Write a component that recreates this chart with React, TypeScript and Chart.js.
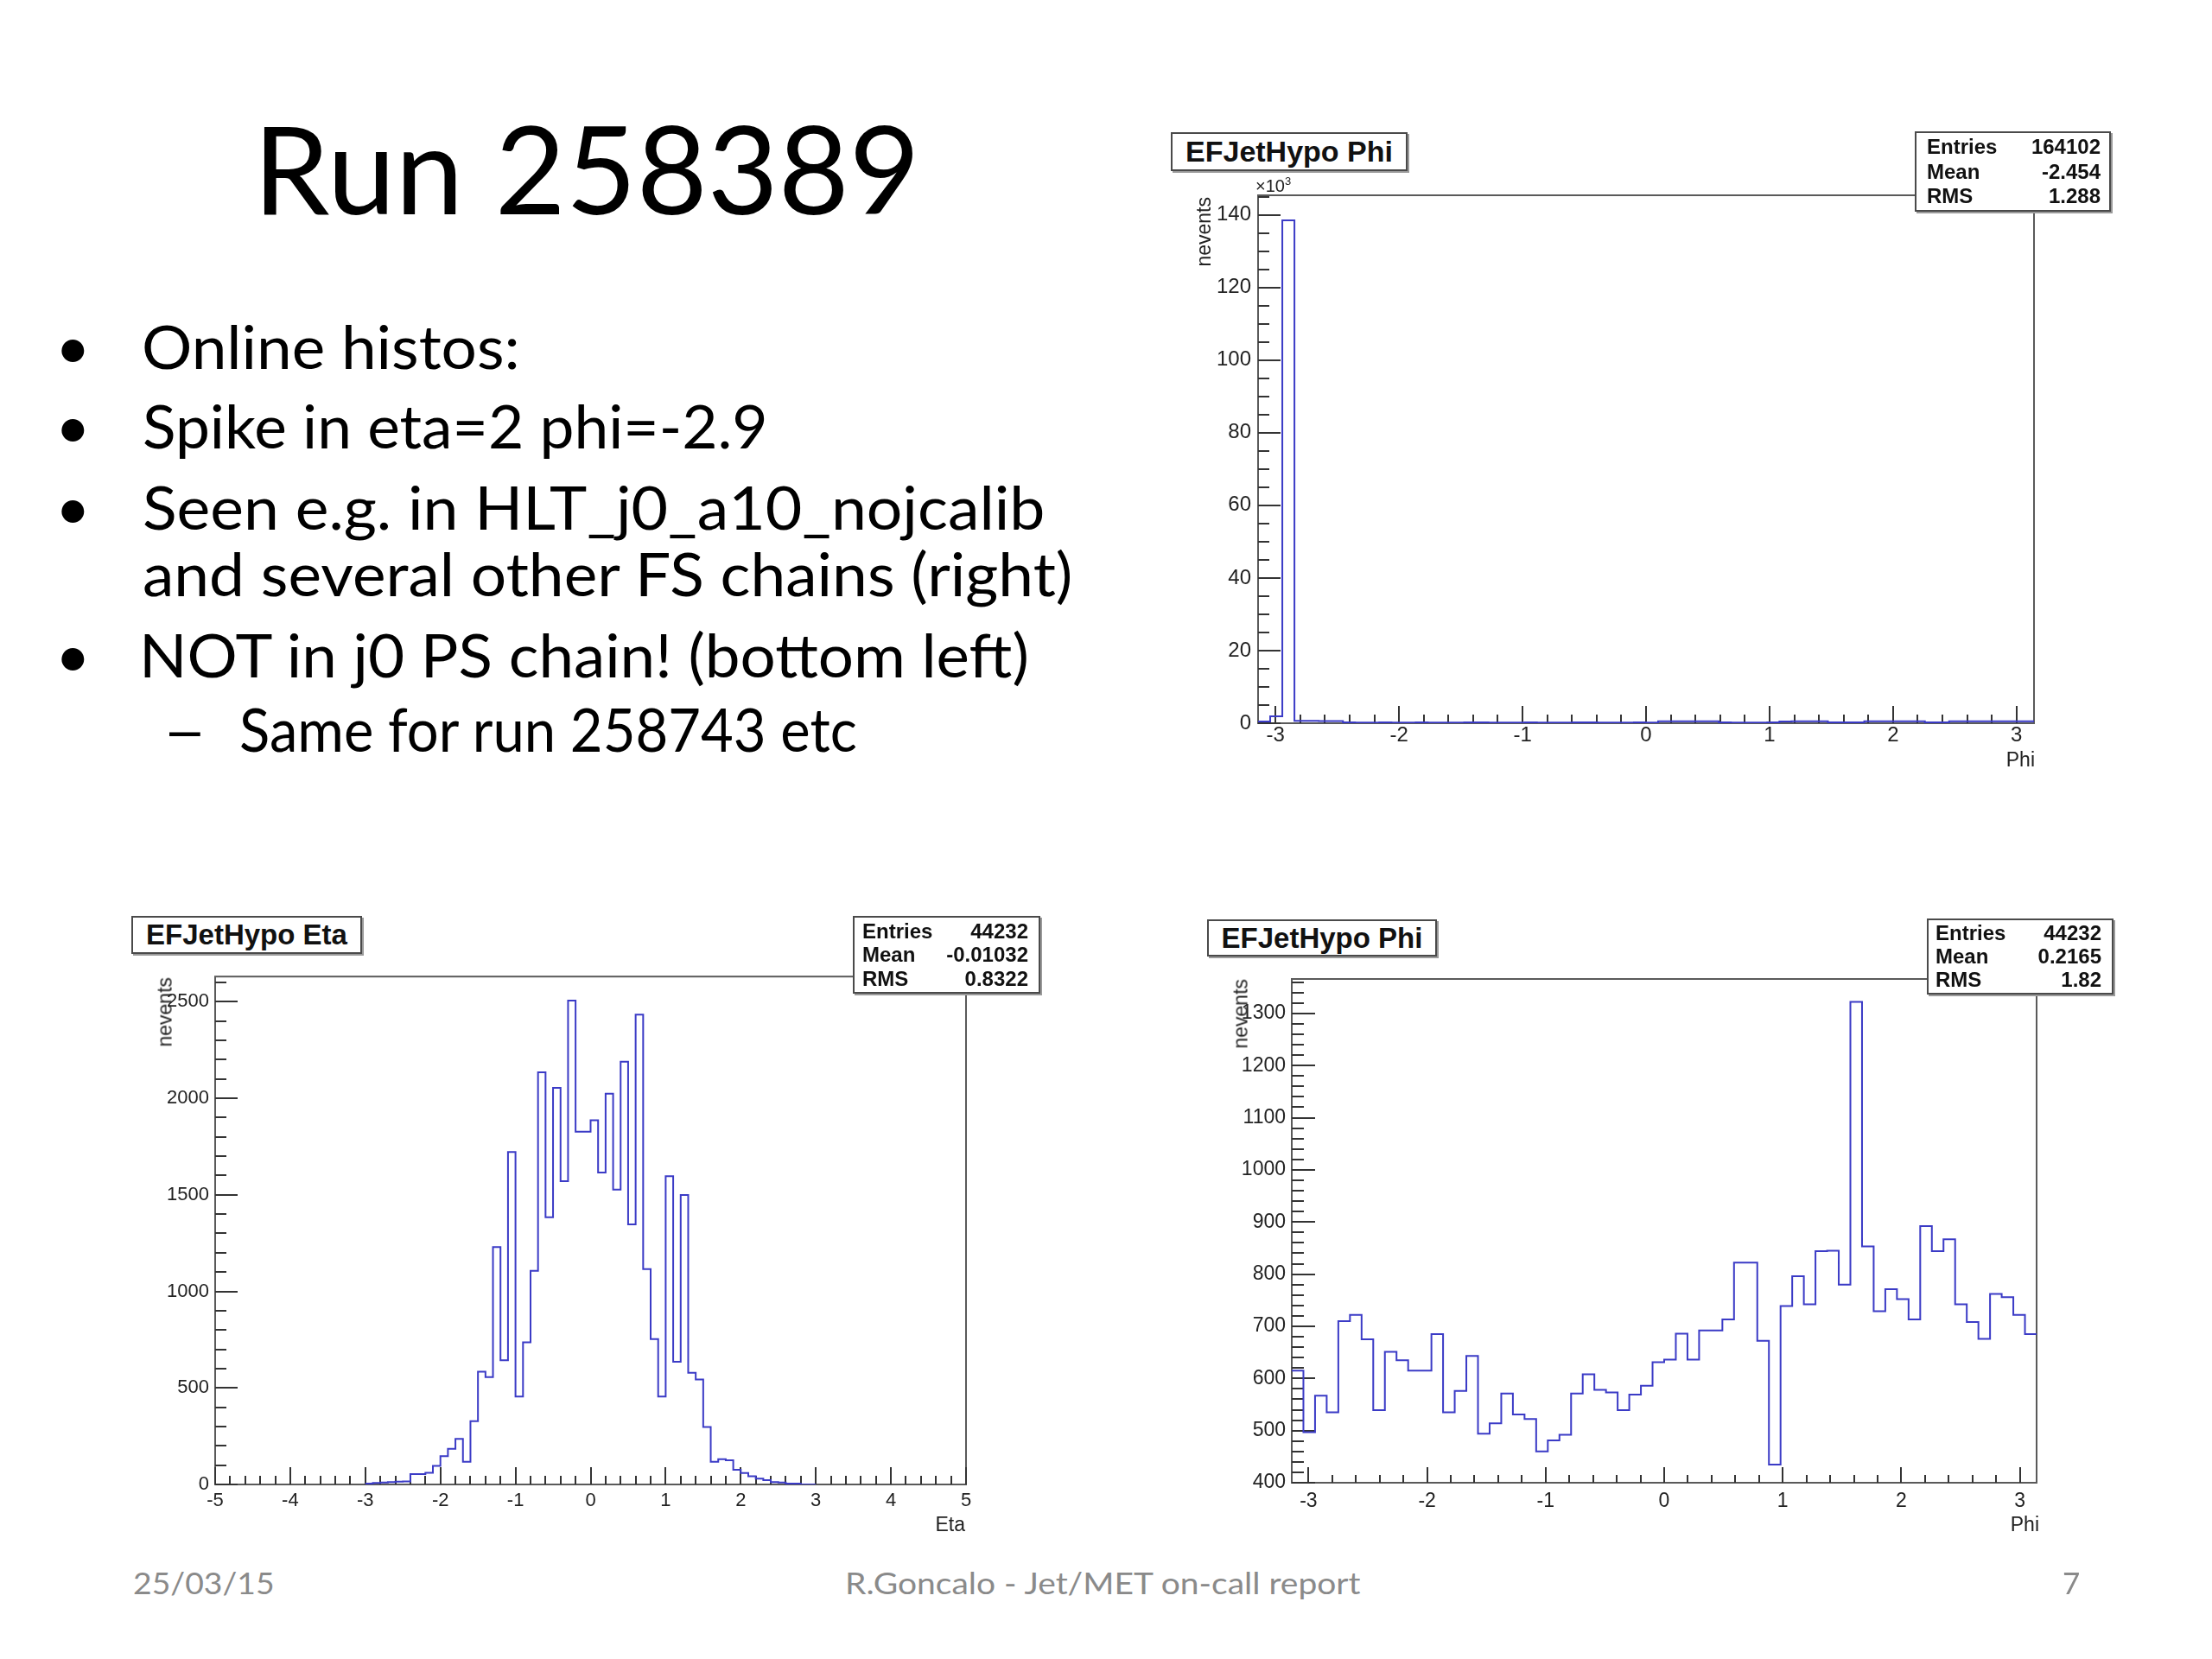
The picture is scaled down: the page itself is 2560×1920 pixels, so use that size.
import React, { useEffect, useRef } from 'react';
import { Chart, registerables } from 'chart.js';

Chart.register(...registerables);

// ---------------- fonts / colours ----------------
const SLIDE_FONT = 'Lato, "Open Sans", sans-serif';
const ROOT_FONT = '"Liberation Sans", Arial, sans-serif';
const HIST_COLOR = '#3b3bc6';
const FRAME_COLOR = '#5a5a5a';
const TICK_COLOR = '#333333';
const LABEL_COLOR = '#222222';
const FOOTER_COLOR = '#8a8a8a';

// ---------------- slide text ----------------
const SLIDE_TITLE = 'Run 258389';
const BULLET_LINES = [
  'Online histos:',
  'Spike in eta=2 phi=-2.9',
  'Seen e.g. in HLT_j0_a10_nojcalib',
  'and several other FS chains (right)',
  'NOT in j0 PS chain! (bottom left)',
];
const SUB_BULLET = 'Same for run 258743 etc';
const FOOTER_DATE = '25/03/15';
const FOOTER_CENTER = 'R.Goncalo - Jet/MET on-call report';
const FOOTER_PAGE = '7';

// ---------------- top-right histogram: EFJetHypo Phi (64 bins, -pi..pi) ----------------
const TOP_PHI_TITLE = 'EFJetHypo Phi';
const TOP_PHI_STATS_LABELS = ['Entries', 'Mean', 'RMS'];
const TOP_PHI_STATS_VALUES = ['164102', '-2.454', '1.288'];
const TOP_PHI_VALUES = [
  470, 1900, 138500, 630, 630, 620, 610,
  210, 190, 200, 220, 200, 190, 210, 200, 200, 190, 210, 220, 200,
  190, 200, 210, 200, 190, 200, 210, 220, 200, 190, 200, 210, 200,
  560, 540, 550, 560, 540,
  210, 200, 190, 200, 210,
  470, 560, 550, 560,
  260, 250, 240,
  560, 550, 540, 560, 550,
  250, 240,
  560, 550, 560, 540, 550, 560, 550,
];
const TOP_PHI_Y_TICKS = [0, 20000, 40000, 60000, 80000, 100000, 120000, 140000];
const TOP_PHI_Y_LABELS = ['0', '20', '40', '60', '80', '100', '120', '140'];

// ---------------- bottom-left histogram: EFJetHypo Eta (bins of 0.1 from -3.0) ----------------
const ETA_TITLE = 'EFJetHypo Eta';
const ETA_STATS_LABELS = ['Entries', 'Mean', 'RMS'];
const ETA_STATS_VALUES = ['44232', '-0.01032', '0.8322'];
const ETA_FIRST_EDGE = -3.0;
const ETA_BIN_WIDTH = 0.1;
const ETA_VALUES = [
  5, 8, 10, 12, 14, 16, 54, 54, 60, 96,
  147, 185, 236, 118, 328, 584, 556, 1229, 643, 1721,
  455, 736, 1106, 2134, 1384, 2054, 1571, 2506, 1827, 1827,
  1886, 1615, 2024, 1527, 2189, 1347, 2433, 1115, 753, 455,
  1596, 635, 1499, 578, 544, 298, 118, 131, 125, 76,
  59, 42, 30, 22, 12, 10, 5, 4, 0, 0,
];
const ETA_X_TICKS = [-5, -4, -3, -2, -1, 0, 1, 2, 3, 4, 5];
const ETA_X_LABELS = ['-5', '-4', '-3', '-2', '-1', '0', '1', '2', '3', '4', '5'];
const ETA_Y_TICKS = [0, 500, 1000, 1500, 2000, 2500];
const ETA_Y_LABELS = ['0', '500', '1000', '1500', '2000', '2500'];

// ---------------- bottom-right histogram: EFJetHypo Phi (64 bins, -pi..pi) ----------------
const PHI_TITLE = 'EFJetHypo Phi';
const PHI_STATS_LABELS = ['Entries', 'Mean', 'RMS'];
const PHI_STATS_VALUES = ['44232', '0.2165', '1.82'];
const PHI_VALUES = [
  615, 497, 567, 535, 710, 722, 675, 539, 651, 635,
  615, 615, 685, 535, 576, 643, 494, 514, 571, 531,
  522, 460, 481, 492, 571, 608, 578, 573, 539, 569,
  586, 631, 636, 686, 636, 692, 692, 713, 822, 822,
  672, 435, 739, 796, 742, 844, 845, 780, 1322, 853,
  729, 771, 752, 713, 892, 844, 867, 742, 708, 676,
  762, 756, 722, 685,
];
const PHI_Y_TICKS = [400, 500, 600, 700, 800, 900, 1000, 1100, 1200, 1300];
const PHI_Y_LABELS = ['400', '500', '600', '700', '800', '900', '1000', '1100', '1200', '1300'];

const PHI_X_TICKS = [-3, -2, -1, 0, 1, 2, 3];
const PHI_X_LABELS = ['-3', '-2', '-1', '0', '1', '2', '3'];
const PHI_BINS = 64;

// ---------------- text helpers ----------------
let measureCtx: CanvasRenderingContext2D | null = null;
function measure(text: string, font: string) {
  if (!measureCtx) measureCtx = document.createElement('canvas').getContext('2d');
  measureCtx!.font = font;
  return measureCtx!.measureText(text);
}

function FitText(p: {
  text: string; inkLeft: number; baseline: number; inkWidth?: number;
  size: number; family: string; color?: string; weight?: number;
}) {
  const weight = p.weight ?? 400;
  const font = `${weight} ${p.size}px ${p.family}`;
  const m = measure(p.text, font);
  const inkW = (m.actualBoundingBoxLeft || 0) + (m.actualBoundingBoxRight || m.width);
  const sx = p.inkWidth && inkW > 0 ? p.inkWidth / inkW : 1;
  const asc = (m as any).fontBoundingBoxAscent ?? p.size * 0.987;
  const desc = (m as any).fontBoundingBoxDescent ?? p.size * 0.213;
  const top = p.baseline - ((p.size - (asc + desc)) / 2 + asc);
  const left = p.inkLeft + (m.actualBoundingBoxLeft || 0) * sx;
  return (
    <div
      style={{
        position: 'absolute', left, top, fontFamily: p.family, fontSize: p.size,
        fontWeight: weight, lineHeight: `${p.size}px`, color: p.color ?? '#000',
        whiteSpace: 'pre', transform: `scaleX(${sx})`, transformOrigin: '0 0',
      }}
    >
      {p.text}
    </div>
  );
}

function TitleBox(p: { left: number; top: number; width: number; height: number; text: string; size: number }) {
  return (
    <div
      style={{
        position: 'absolute', left: p.left, top: p.top, width: p.width, height: p.height,
        boxSizing: 'border-box', border: '2px solid #4a4a4a', background: '#fff',
        boxShadow: '2px 2px 0 #9a9a9a', display: 'flex', alignItems: 'center',
        justifyContent: 'center', fontFamily: ROOT_FONT, fontWeight: 700, fontSize: p.size,
        color: '#111', whiteSpace: 'nowrap',
      }}
    >
      {p.text}
    </div>
  );
}

function StatsBox(p: {
  left: number; top: number; width: number; height: number;
  labels: string[]; values: string[]; size: number; padL: number; padR: number;
}) {
  return (
    <div
      style={{
        position: 'absolute', left: p.left, top: p.top, width: p.width, height: p.height,
        boxSizing: 'border-box', border: '2px solid #4a4a4a', background: '#fff',
        boxShadow: '2px 2px 0 #9a9a9a', display: 'flex', flexDirection: 'column',
        justifyContent: 'space-evenly', paddingLeft: p.padL, paddingRight: p.padR,
        fontFamily: ROOT_FONT, fontWeight: 700, fontSize: p.size, color: '#111',
        lineHeight: 1,
      }}
    >
      {p.labels.map((l, i) => (
        <div key={l} style={{ display: 'flex', justifyContent: 'space-between' }}>
          <span>{l}</span>
          <span>{p.values[i]}</span>
        </div>
      ))}
    </div>
  );
}

function AxisText(p: { text: string; right: number; centerY: number; size: number }) {
  return (
    <div
      style={{
        position: 'absolute', right: 2560 - p.right, top: p.centerY - p.size / 2,
        fontFamily: ROOT_FONT, fontSize: p.size, lineHeight: `${p.size}px`,
        color: LABEL_COLOR, whiteSpace: 'nowrap',
      }}
    >
      {p.text}
    </div>
  );
}

function VerticalAxisText(p: { text: string; centerX: number; top: number; size: number }) {
  return (
    <div style={{ position: 'absolute', left: p.centerX - p.size / 2, top: p.top, width: 0, height: 0 }}>
      <div
        style={{
          position: 'absolute', right: 0, top: 0, fontFamily: ROOT_FONT, fontSize: p.size,
          lineHeight: `${p.size}px`, color: LABEL_COLOR, whiteSpace: 'nowrap',
          transformOrigin: 'top right', transform: 'rotate(-90deg)',
        }}
      >
        {p.text}
      </div>
    </div>
  );
}

// ---------------- ROOT-like histogram via Chart.js ----------------
type Box = { left: number; top: number; width: number; height: number };
type Frame = { left: number; top: number; right: number; bottom: number };
type HistConfig = {
  box: Box; frame: Frame;
  firstEdge: number; binWidth: number; values: number[];
  xMin: number; xMax: number; yMin: number; yMax: number;
  xTicks: number[]; xLabels: string[]; yTicks: number[]; yLabels: string[];
  xMinorStep: number; yMinorStep: number;
  xMajorLen: number; xMinorLen: number; yMajorLen: number; yMinorLen: number;
  fontSize: number; xLabelPad: number; yLabelPad: number;
};

const Y_AXIS_W = 80;
const X_AXIS_H = 45;

const rootFramePlugin = {
  id: 'rootFrame',
  beforeDatasetsDraw(chart: any, _args: any, opts: any) {
    const { ctx, chartArea: a, scales } = chart;
    const xs = scales.x, ys = scales.y;
    ctx.save();
    ctx.strokeStyle = FRAME_COLOR;
    ctx.lineWidth = 2;
    ctx.strokeRect(a.left, a.top, a.right - a.left, a.bottom - a.top);
    ctx.strokeStyle = TICK_COLOR;
    ctx.lineWidth = 2;
    ctx.beginPath();
    const isMajor = (list: number[], v: number, step: number) =>
      list.some((t) => Math.abs(t - v) < step / 10);
    const kx0 = Math.ceil(xs.min / opts.xMinorStep - 1e-9);
    for (let k = kx0; k * opts.xMinorStep <= xs.max + 1e-9; k++) {
      const v = k * opts.xMinorStep;
      const px = Math.round(xs.getPixelForValue(v));
      const len = isMajor(opts.xTicks, v, opts.xMinorStep) ? opts.xMajorLen : opts.xMinorLen;
      ctx.moveTo(px, a.bottom);
      ctx.lineTo(px, a.bottom - len);
    }
    const ky0 = Math.ceil(ys.min / opts.yMinorStep - 1e-9);
    for (let k = ky0; k * opts.yMinorStep <= ys.max + 1e-9; k++) {
      const v = k * opts.yMinorStep;
      const py = Math.round(ys.getPixelForValue(v));
      const len = isMajor(opts.yTicks, v, opts.yMinorStep) ? opts.yMajorLen : opts.yMinorLen;
      ctx.moveTo(a.left, py);
      ctx.lineTo(a.left + len, py);
    }
    ctx.stroke();
    ctx.restore();
  },
};

function RootHist({ cfg }: { cfg: HistConfig }) {
  const ref = useRef<HTMLCanvasElement>(null);
  useEffect(() => {
    const c = cfg;
    const padding = {
      left: c.frame.left - c.box.left - Y_AXIS_W,
      top: c.frame.top - c.box.top,
      right: c.box.left + c.box.width - c.frame.right,
      bottom: c.box.top + c.box.height - c.frame.bottom - X_AXIS_H,
    };
    const points = c.values.map((v, i) => ({ x: c.firstEdge + i * c.binWidth, y: v }));
    points.push({ x: c.firstEdge + c.values.length * c.binWidth, y: c.values[c.values.length - 1] });
    const tickFont = { family: ROOT_FONT, size: c.fontSize };
    const chart = new Chart(ref.current!, {
      type: 'line',
      data: {
        datasets: [
          {
            data: points,
            stepped: 'before',
            borderColor: HIST_COLOR,
            borderWidth: 2,
            pointRadius: 0,
            fill: false,
            tension: 0,
          },
        ],
      },
      options: {
        responsive: false,
        animation: false,
        devicePixelRatio: 1,
        events: [],
        layout: { padding },
        plugins: {
          legend: { display: false },
          tooltip: { enabled: false },
          title: { display: false },
          rootFrame: {
            xTicks: c.xTicks, yTicks: c.yTicks, xMinorStep: c.xMinorStep, yMinorStep: c.yMinorStep,
            xMajorLen: c.xMajorLen, xMinorLen: c.xMinorLen, yMajorLen: c.yMajorLen, yMinorLen: c.yMinorLen,
          },
        } as any,
        scales: {
          x: {
            type: 'linear',
            min: c.xMin,
            max: c.xMax,
            grid: { display: false, drawTicks: false },
            border: { display: false },
            afterBuildTicks: (s: any) => { s.ticks = c.xTicks.map((v) => ({ value: v })); },
            afterFit: (s: any) => { s.height = X_AXIS_H; },
            ticks: {
              autoSkip: false, maxRotation: 0, minRotation: 0, padding: c.xLabelPad,
              font: tickFont, color: LABEL_COLOR,
              callback: (v: any) => c.xLabels[c.xTicks.findIndex((t) => Math.abs(t - v) < 1e-6)] ?? '',
            },
          },
          y: {
            type: 'linear',
            min: c.yMin,
            max: c.yMax,
            grid: { display: false, drawTicks: false },
            border: { display: false },
            afterBuildTicks: (s: any) => { s.ticks = c.yTicks.map((v) => ({ value: v })); },
            afterFit: (s: any) => { s.width = Y_AXIS_W; },
            ticks: {
              autoSkip: false, padding: c.yLabelPad, font: tickFont, color: LABEL_COLOR,
              callback: (v: any) => c.yLabels[c.yTicks.findIndex((t) => Math.abs(t - v) < 1e-6)] ?? '',
            },
          },
        },
      } as any,
      plugins: [rootFramePlugin],
    });
    return () => chart.destroy();
  }, [cfg]);
  return (
    <canvas
      ref={ref}
      width={cfg.box.width}
      height={cfg.box.height}
      style={{ position: 'absolute', left: cfg.box.left, top: cfg.box.top, width: cfg.box.width, height: cfg.box.height }}
    />
  );
}

const TOP_CFG: HistConfig = {
  box: { left: 1350, top: 200, width: 1070, height: 700 },
  frame: { left: 1456, top: 226, right: 2354, bottom: 837 },
  firstEdge: -Math.PI, binWidth: (2 * Math.PI) / PHI_BINS, values: TOP_PHI_VALUES,
  xMin: -Math.PI, xMax: Math.PI, yMin: 0, yMax: 145400,
  xTicks: PHI_X_TICKS, xLabels: PHI_X_LABELS, yTicks: TOP_PHI_Y_TICKS, yLabels: TOP_PHI_Y_LABELS,
  xMinorStep: 0.2, yMinorStep: 5000,
  xMajorLen: 20, xMinorLen: 10, yMajorLen: 26, yMinorLen: 13,
  fontSize: 24, xLabelPad: 0, yLabelPad: 8,
};

const ETA_CFG: HistConfig = {
  box: { left: 140, top: 1110, width: 1020, height: 680 },
  frame: { left: 249, top: 1130, right: 1118, bottom: 1718 },
  firstEdge: ETA_FIRST_EDGE, binWidth: ETA_BIN_WIDTH, values: ETA_VALUES,
  xMin: -5, xMax: 5, yMin: 0, yMax: 2630,
  xTicks: ETA_X_TICKS, xLabels: ETA_X_LABELS, yTicks: ETA_Y_TICKS, yLabels: ETA_Y_LABELS,
  xMinorStep: 0.2, yMinorStep: 100,
  xMajorLen: 20, xMinorLen: 10, yMajorLen: 26, yMinorLen: 13,
  fontSize: 22, xLabelPad: 6, yLabelPad: 7,
};

const PHI_CFG: HistConfig = {
  box: { left: 1380, top: 1110, width: 1040, height: 680 },
  frame: { left: 1495, top: 1133, right: 2357, bottom: 1716 },
  firstEdge: -Math.PI, binWidth: (2 * Math.PI) / PHI_BINS, values: PHI_VALUES,
  xMin: -Math.PI, xMax: Math.PI, yMin: 400, yMax: 1366,
  xTicks: PHI_X_TICKS, xLabels: PHI_X_LABELS, yTicks: PHI_Y_TICKS, yLabels: PHI_Y_LABELS,
  xMinorStep: 0.2, yMinorStep: 20,
  xMajorLen: 18, xMinorLen: 9, yMajorLen: 27, yMinorLen: 14,
  fontSize: 23, xLabelPad: 8, yLabelPad: 7,
};

const BULLET_BASELINES = [427, 519, 613, 690, 784];
const BULLET_WIDTHS = [431, 718, 1040, 1073, 1023];
const BULLET_HAS_DOT = [true, true, true, false, true];

export default function App() {
  return (
    <div
      style={{
        position: 'absolute', left: 0, top: 0, width: 2560, height: 1920,
        background: '#ffffff', overflow: 'hidden',
      }}
    >
      <FitText text={SLIDE_TITLE} inkLeft={305} baseline={248} inkWidth={751} size={141} family={SLIDE_FONT} />
      {BULLET_LINES.map((t, i) => (
        <React.Fragment key={t}>
          {BULLET_HAS_DOT[i] && (
            <FitText text={'\u2022'} inkLeft={71} baseline={BULLET_BASELINES[i]} size={70} family={SLIDE_FONT} />
          )}
          <FitText text={t} inkLeft={167} baseline={BULLET_BASELINES[i]} inkWidth={BULLET_WIDTHS[i]} size={70} family={SLIDE_FONT} />
        </React.Fragment>
      ))}
      <FitText text={'\u2013'} inkLeft={196} baseline={870} inkWidth={37} size={70} family={SLIDE_FONT} />
      <FitText text={SUB_BULLET} inkLeft={279} baseline={870} inkWidth={713} size={70} family={SLIDE_FONT} />

      <RootHist cfg={TOP_CFG} />
      <RootHist cfg={ETA_CFG} />
      <RootHist cfg={PHI_CFG} />

      {/* top-right overlays */}
      <TitleBox left={1355} top={153} width={274} height={45} text={TOP_PHI_TITLE} size={34} />
      <StatsBox left={2216} top={152} width={227} height={93} labels={TOP_PHI_STATS_LABELS} values={TOP_PHI_STATS_VALUES} size={24} padL={12} padR={10} />
      <div style={{ position: 'absolute', left: 1453, top: 200, fontFamily: ROOT_FONT, fontSize: 20, lineHeight: '20px', color: LABEL_COLOR }}>
        {'\u00d710'}<sup style={{ fontSize: 13 }}>3</sup>
      </div>
      <VerticalAxisText text="nevents" centerX={1393} top={228} size={23} />
      <AxisText text="Phi" right={2355} centerY={879} size={23} />

      {/* bottom-left overlays */}
      <TitleBox left={152} top={1060} width={267} height={44} text={ETA_TITLE} size={33} />
      <StatsBox left={987} top={1060} width={217} height={90} labels={ETA_STATS_LABELS} values={ETA_STATS_VALUES} size={24} padL={9} padR={12} />
      <VerticalAxisText text="nevents" centerX={191} top={1131} size={23} />
      <AxisText text="Eta" right={1117} centerY={1764} size={23} />

      {/* bottom-right overlays */}
      <TitleBox left={1397} top={1064} width={266} height={43} text={PHI_TITLE} size={33} />
      <StatsBox left={2230} top={1063} width={216} height={88} labels={PHI_STATS_LABELS} values={PHI_STATS_VALUES} size={24} padL={8} padR={12} />
      <VerticalAxisText text="nevents" centerX={1436} top={1133} size={23} />
      <AxisText text="Phi" right={2360} centerY={1764} size={23} />

      {/* footer */}
      <FitText text={FOOTER_DATE} inkLeft={155} baseline={1845} inkWidth={160} size={35} family={SLIDE_FONT} color={FOOTER_COLOR} />
      <FitText text={FOOTER_CENTER} inkLeft={981} baseline={1845} inkWidth={596} size={35} family={SLIDE_FONT} color={FOOTER_COLOR} />
      <FitText text={FOOTER_PAGE} inkLeft={2388} baseline={1845} size={35} family={SLIDE_FONT} color={FOOTER_COLOR} />
    </div>
  );
}
